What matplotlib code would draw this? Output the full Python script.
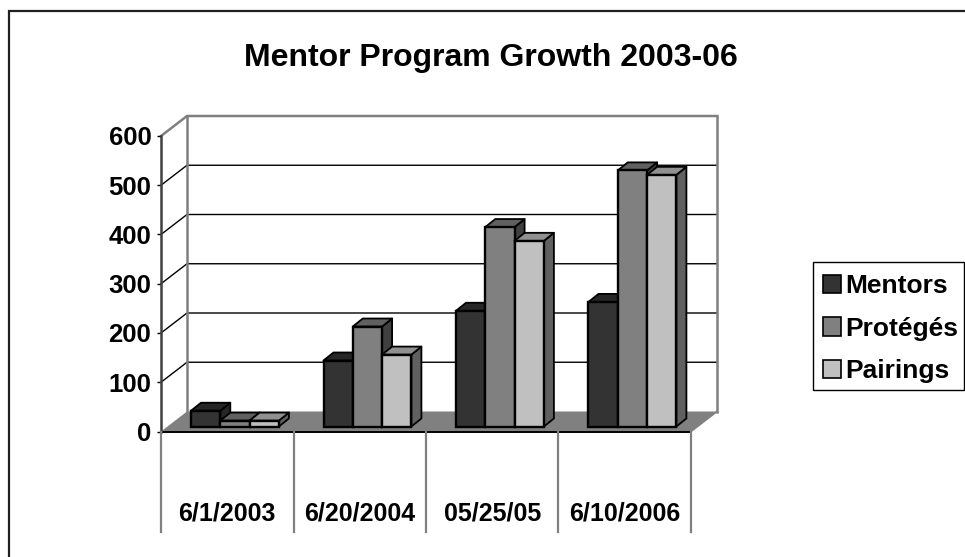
import matplotlib
matplotlib.use('Agg')
import matplotlib.pyplot as plt
from matplotlib.patches import Patch, Polygon, Rectangle

plt.rcParams['font.family'] = ['Liberation Sans', 'DejaVu Sans']
plt.rcParams['font.weight'] = 'bold'

# Dados
categories = ['6/1/2003', '6/20/2004', '05/25/05', '6/10/2006']
series_names = ['Mentors', 'Protégés', 'Pairings']
mentors = [32, 134, 235, 253]
proteges = [12, 203, 405, 520]
pairings = [12, 146, 377, 511]
y_ticks = [0, 100, 200, 300, 400, 500, 600]

W, H = 965, 557
# front plane of the plot, pixels
LEFT, RIGHT, TOP, BOTTOM = 161, 691, 136, 431.5
DEPTH_X, DEPTH_Y = 26, 20
BAR_DX, BAR_DY = 10, 8
PLANE_X, PLANE_Y = 6, 5

fronts = ['#333333', '#808080', '#C0C0C0']
tops = ['#262626', '#606060', '#909090']
sides = ['#262626', '#404040', '#606060']

fig = plt.figure(figsize=(W / 100, H / 100), dpi=100)
ax = fig.add_axes([LEFT / W, 1 - BOTTOM / H, (RIGHT - LEFT) / W, (BOTTOM - TOP) / H])
ax.set_xlim(0, len(categories))
ax.set_ylim(0, 600)
ax.patch.set_visible(False)
for s in ax.spines.values():
    s.set_visible(False)

# pixel sizes to data units
ux = len(categories) / (RIGHT - LEFT)
uy = 600 / (BOTTOM - TOP)
dx, dy = DEPTH_X * ux, DEPTH_Y * uy

# outer frame
fig.add_artist(Rectangle((9 / W, -0.01), 1.1, 1 - 11 / H + 0.01, transform=fig.transFigure,
                         fill=False, ec='#202020', lw=1.6))

# floor
ax.add_patch(Polygon([(0, 0), (4, 0), (4 + dx, dy), (dx, dy)], fc='#808080', ec='none', clip_on=False, zorder=1))

# gridlines
for t in y_ticks[1:]:
    c, lw = ('#808080', 1.8) if t == 600 else ('black', 1)
    ax.plot([0, dx, 4 + dx], [t, t + dy, t + dy], color=c, lw=lw, clip_on=False, zorder=1,
            solid_joinstyle='miter')
# back wall edges
ax.plot([dx, dx], [dy, 600 + dy], color='#808080', lw=1.8, clip_on=False, zorder=1)
ax.plot([4 + dx, 4 + dx], [dy, 600 + dy], color='#808080', lw=1.8, clip_on=False, zorder=1)
ax.plot([4, 4 + dx], [0, dy], color='#808080', lw=1.2, clip_on=False, zorder=1)
ax.plot([0, 4], [0, 0], color='black', lw=1.4, clip_on=False, zorder=2)
ax.plot([0, 0], [0, 600], color='#404040', lw=1.8, clip_on=False, zorder=2)

# category dividers
sep = (532 - BOTTOM) * uy
for i in range(len(categories) + 1):
    ax.plot([i, i], [0, -sep], color='#808080', lw=1.6, clip_on=False, zorder=2)
for i, c in enumerate(categories):
    ax.text(i + 0.5, -82 * uy, c, ha='center', va='center', fontsize=18)

# y axis ticks
ax.set_xticks([])
ax.set_yticks(y_ticks)
ax.tick_params(axis='y', length=3, width=1, pad=4, labelsize=18.5, color='black')

# bars
values = [mentors, proteges, pairings]
start = 30 * ux
bw = 29.3 * ux
px, py = PLANE_X * ux, PLANE_Y * uy
bdx, bdy = BAR_DX * ux, BAR_DY * uy
z = 3
for g in range(len(categories)):
    for j, vals in enumerate(values):
        x0 = g + start + j * bw
        x1 = x0 + bw
        y0 = py
        y1 = py + vals[g]
        ax.add_patch(Polygon([(x1, y0), (x1 + bdx, y0 + bdy), (x1 + bdx, y1 + bdy), (x1, y1)],
                             fc=sides[j], ec='black', lw=1.3, clip_on=False, zorder=z, joinstyle='round'))
        ax.add_patch(Polygon([(x0, y1), (x1, y1), (x1 + bdx, y1 + bdy), (x0 + bdx, y1 + bdy)],
                             fc=tops[j], ec='black', lw=1.3, clip_on=False, zorder=z, joinstyle='round'))
        ax.add_patch(Rectangle((x0, y0), bw, vals[g], fc=fronts[j], ec='black', lw=1.7,
                               clip_on=False, zorder=z))
        z += 1

fig.text(491 / W, 1 - 58 / H, 'Mentor Program Growth 2003-06', ha='center', va='center', fontsize=23)

# legend, box drawn apart so the entries can sit where they should
fig.add_artist(Rectangle((813 / W, 1 - 390 / H), 151 / W, 128 / H, transform=fig.transFigure,
                         fc='white', ec='black', lw=1))
handles = [Patch(fc=fronts[i], ec='black', lw=1.2, label=series_names[i]) for i in range(3)]
leg = fig.legend(handles=handles, loc='upper left', frameon=False,
                 bbox_to_anchor=(823 / W, 1 - 274 / H), bbox_transform=fig.transFigure,
                 borderaxespad=0, borderpad=0, fontsize=19, handlelength=0.68, handleheight=0.68,
                 handletextpad=0.16, labelspacing=0.71)

fig.savefig('out.png', dpi=100)
